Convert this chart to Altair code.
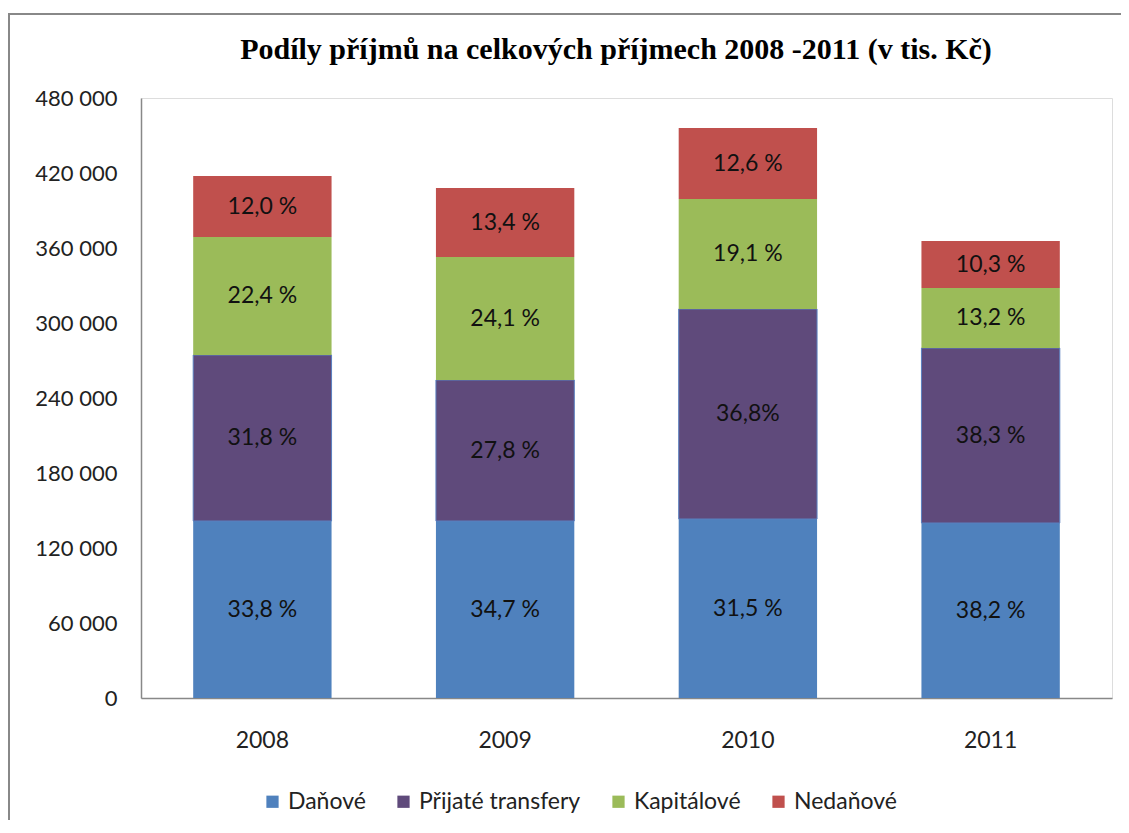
import altair as alt
import pandas as pd

years = ["2008", "2009", "2010", "2011"]
categories = ["Daňové", "Přijaté transfery", "Kapitálové", "Nedaňové"]
colors = ["#4F81BD", "#5F4A7B", "#9BBB59", "#C0504D"]

danove = [141600, 141600, 143200, 140000]
transfery = [132800, 112800, 168000, 140000]
kapitalove = [94400, 98400, 88000, 48000]
nedanove = [48800, 55200, 56800, 37600]

danove_lbl = ["33,8 %", "34,7 %", "31,5 %", "38,2 %"]
transfery_lbl = ["31,8 %", "27,8 %", "36,8%", "38,3 %"]
kapitalove_lbl = ["22,4 %", "24,1 %", "19,1 %", "13,2 %"]
nedanove_lbl = ["12,0 %", "13,4 %", "12,6 %", "10,3 %"]

y_ticks = [0, 60000, 120000, 180000, 240000, 300000, 360000, 420000, 480000]
title_text = "Podíly příjmů na celkových příjmech 2008 -2011 (v tis. Kč)"

series = [danove, transfery, kapitalove, nedanove]
series_lbl = [danove_lbl, transfery_lbl, kapitalove_lbl, nedanove_lbl]
rows = []
for ci, (cat, vals, lbls) in enumerate(zip(categories, series, series_lbl)):
    for yr, v, l in zip(years, vals, lbls):
        rows.append({"year": yr, "cat": cat, "idx": ci, "value": v, "label": l})
df = pd.DataFrame(rows)

FONT = "Lato"
xscale = alt.Scale(paddingInner=0.43, paddingOuter=0.215)

x_enc = alt.X(
    "year:N",
    title=None,
    scale=xscale,
    axis=alt.Axis(
        labelAngle=0, ticks=False, domainColor="#888888", domainWidth=1.5,
        labelFont=FONT, labelFontSize=23, labelColor="#222222", labelPadding=31,
    ),
)

bars = alt.Chart(df).mark_bar(strokeWidth=1).encode(
    x=x_enc,
    y=alt.Y(
        "value:Q", title=None, stack="zero",
        scale=alt.Scale(domain=[0, 480000], nice=False),
        axis=alt.Axis(
            values=y_ticks, grid=False, ticks=False, domainColor="#888888", domainWidth=1.5,
            labelFont=FONT, labelFontSize=22, labelColor="#222222", labelPadding=24,
            labelExpr="replace(format(datum.value, ','), ',', ' ')",
        ),
    ),
    color=alt.Color(
        "cat:N",
        scale=alt.Scale(domain=categories, range=colors),
        legend=alt.Legend(
            title=None, orient="none", direction="horizontal", legendX=120, legendY=692,
            symbolType="square", symbolSize=150, symbolStrokeWidth=0,
            labelFont=FONT, labelFontSize=23, labelColor="#222222", labelLimit=400,
            columnPadding=26, labelOffset=4,
        ),
    ),
    stroke=alt.condition("datum.idx == 1", alt.value("#5A80C0"), alt.value("transparent")),
    order=alt.Order("idx:Q", sort="ascending"),
)

texts = alt.Chart(df).transform_stack(
    stack="value", groupby=["year"], as_=["v0", "v1"], sort=[alt.SortField("idx", order="ascending")]
).transform_calculate(
    mid="(datum.v0 + datum.v1) / 2"
).mark_text(font=FONT, fontSize=23, color="#111111", baseline="middle").encode(
    x=alt.X("year:N", scale=xscale),
    y=alt.Y("mid:Q"),
    text="label:N",
)

title = alt.Chart(alt.Data(values=[{"t": title_text}])).mark_text(
    font="Liberation Serif", fontSize=30, fontWeight="bold", color="#000000",
    align="center", baseline="alphabetic",
).encode(x=alt.value(475), y=alt.value(-39), text="t:N")

border_left = alt.Chart(alt.Data(values=[{"a": 1}])).mark_rule(
    stroke="#888888", strokeWidth=2
).encode(x=alt.value(-132), y=alt.value(-85), y2=alt.value(730))

border_top = alt.Chart(alt.Data(values=[{"a": 1}])).mark_rule(
    stroke="#888888", strokeWidth=2
).encode(y=alt.value(-84), x=alt.value(-133), x2=alt.value(980))

chart = alt.layer(border_left, border_top, title, bars, texts).properties(
    width=971,
    height=600,
    autosize=alt.AutoSizeParams(type="none"),
    padding={"left": 133, "top": 90, "right": 9, "bottom": 122},
).configure_view(stroke=None).configure(background="white")

chart.save("out.html", embed_options={"renderer": "svg", "actions": False})
